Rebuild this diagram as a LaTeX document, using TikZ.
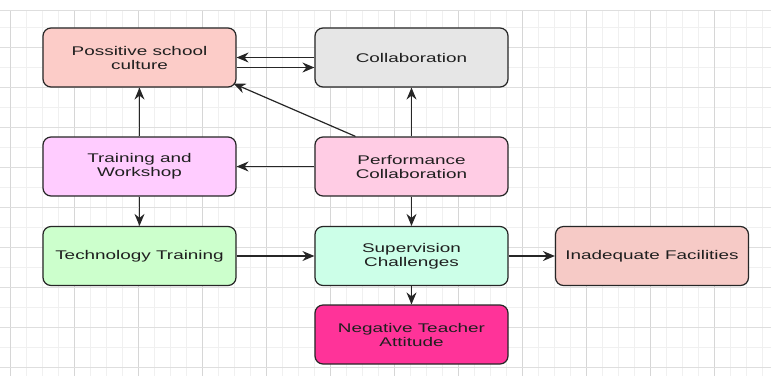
\documentclass[tikz,border=0pt]{standalone}
\usepackage{fontspec}
\setmainfont{Liberation Sans}[FakeStretch=1.5]
\usetikzlibrary{arrows.meta}
\definecolor{culturefill}{HTML}{FCCCC8}
\definecolor{collabfill}{HTML}{E6E6E6}
\definecolor{trainfill}{HTML}{FFCCFF}
\definecolor{perffill}{HTML}{FFCCE4}
\definecolor{techfill}{HTML}{CCFFCC}
\definecolor{supfill}{HTML}{CCFFE8}
\definecolor{negfill}{HTML}{FF3399}
\definecolor{facilfill}{HTML}{F6CAC6}
\definecolor{gridmajor}{HTML}{D6D6D6}
\definecolor{gridminor}{HTML}{F0F0F0}
\begin{document}
\begin{tikzpicture}[x=1pt, y=-1pt,
    box/.style={draw=black!85, line width=1.2pt, rounded corners=8pt,
      minimum width=193pt, minimum height=59pt, inner sep=0pt,
      align=center, text=black!88, font=\fontsize{12.6}{14}\selectfont},
    arr/.style={-{Stealth[length=12pt,width=10pt,inset=4pt]}, line width=1.2pt, black!85}]
  \useasboundingbox (0,0) rectangle (771,376);
  % Background grid
  \fill[white] (0,0) rectangle (771,376);
  \foreach \x in {-6,10,...,770} {
    \draw[gridminor, line width=0.6pt] (\x,10) -- (\x,376);
  }
  \foreach \y in {27,67,...,367} {
    \draw[gridminor, line width=0.6pt] (0,\y) -- (771,\y);
  }
  \foreach \x in {10,74,...,770} {
    \draw[gridmajor, line width=0.8pt] (\x,10) -- (\x,376);
  }
  \foreach \y in {10,47,87,...,367} {
    \draw[gridmajor!80, line width=0.8pt] (0,\y) -- (771,\y);
  }
  % Boxes
  \node[box, fill=culturefill] (culture) at (139.5,57.5) {Possitive school\\culture};
  \node[box, fill=collabfill] (collab) at (411.5,57.5) {Collaboration};
  \node[box, fill=trainfill] (train) at (139.5,166.5) {Training and\\Workshop};
  \node[box, fill=perffill] (perf) at (411.5,166.5) {Performance\\Collaboration};
  \node[box, fill=techfill] (tech) at (139.5,256) {Technology Training};
  \node[box, fill=supfill] (superv) at (411.5,256) {Supervision\\Challenges};
  \node[box, fill=negfill] (neg) at (411.5,334.5) {Negative Teacher\\Attitude};
  \node[box, fill=facilfill] (facil) at (652,256) {Inadequate Facilities};
  % Connectors
  \draw[arr] (collab.west) -- (culture.east);
  \draw[arr] ([yshift=-10pt]culture.east) -- ([yshift=-10pt]collab.west);
  \draw[arr] ([xshift=-56pt]perf.north) -- ([shift={(-3,-4)}]culture.south east);
  \draw[arr] (train) -- (culture);
  \draw[arr] (perf) -- (collab);
  \draw[arr] (perf) -- (train);
  \draw[arr] (train) -- (tech);
  \draw[arr] (perf) -- (superv);
  \draw[arr] (tech) -- (superv);
  \draw[arr] (superv) -- (facil);
  \draw[arr] (superv) -- (neg);
\end{tikzpicture}
\end{document}
